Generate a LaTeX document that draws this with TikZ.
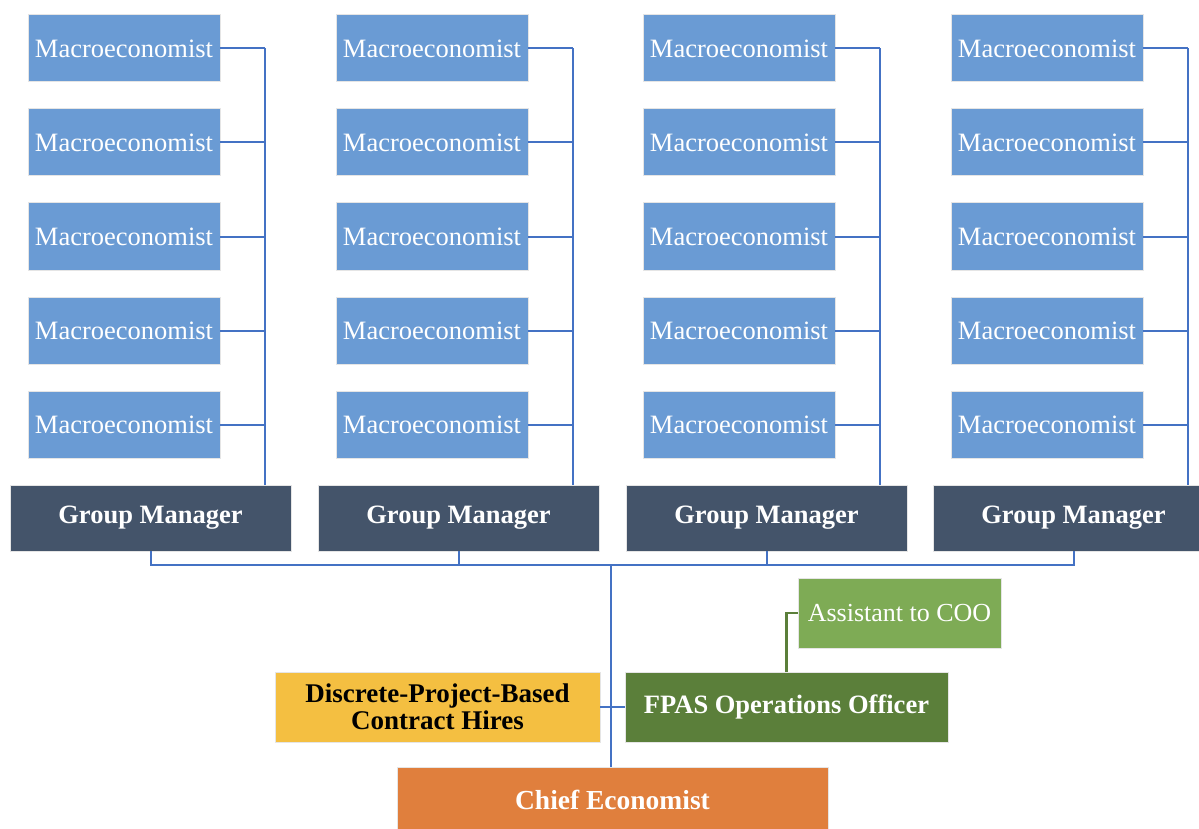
\documentclass[tikz,border=0pt]{standalone}
\usepackage{fontspec}
\setmainfont{Liberation Serif}
\definecolor{macro}{HTML}{6A9BD4}
\definecolor{gmc}{HTML}{44546A}
\definecolor{linec}{HTML}{4472C4}
\definecolor{chiefc}{HTML}{E07F3D}
\definecolor{yel}{HTML}{F4BF41}
\definecolor{dgreen}{HTML}{5B7F3A}
\definecolor{lgreen}{HTML}{7EAB55}
\tikzset{
  box/.style={rectangle, inner sep=0pt, outer sep=0pt, draw=black!10, line width=1pt, align=center},
  macrobox/.style={box, fill=macro, text=white, minimum width=192pt, minimum height=67pt, font=\fontsize{26.5}{30}\selectfont},
  gmbox/.style={box, fill=gmc, text=white, minimum width=281pt, minimum height=66pt, font=\fontsize{26.5}{30}\bfseries},
  conn/.style={draw=linec, line width=2pt},
  gconn/.style={draw=dgreen, line width=2.5pt},
}
\begin{document}
\begin{tikzpicture}[x=1pt,y=-1pt]
\clip (0,0) rectangle (1199,829);
\fill[white] (0,0) rectangle (1199,829);
\foreach \c/\xc/\gx in {1/124/150.5, 2/432/458.5, 3/739/766.5, 4/1047/1073.5} {
  \foreach \r/\yc in {1/48.5, 2/142.5, 3/236.5, 4/330.5, 5/424.5} {
    \node[macrobox] (m\c-\r) at (\xc,\yc) {Macroeconomist};
  }
  \node[gmbox] (gm\c) at (\gx,518) {Group Manager};
  \coordinate (v\c) at (\xc+141,485);
  \foreach \r in {1,...,5} {
    \draw[conn] (m\c-\r.east) -- (m\c-\r.east -| v\c);
  }
  \draw[conn] (m\c-1.east -| v\c) -- (v\c);
}
\coordinate (bus) at (611,565);
\node[box, fill=chiefc, text=white, minimum width=431pt, minimum height=66pt, font=\fontsize{27.5}{30}\bfseries] (chief) at (612.5,800) {Chief Economist};
\node[box, fill=yel, text=black, minimum width=325pt, minimum height=70pt, font=\fontsize{27}{27}\bfseries] (disc) at (437.5,707) {Discrete-Project-Based\\Contract Hires};
\node[box, fill=dgreen, text=white, minimum width=323pt, minimum height=70pt, font=\fontsize{26.5}{30}\bfseries] (fpas) at (786.5,707) {FPAS Operations Officer};
\node[box, fill=lgreen, text=white, minimum width=203pt, minimum height=70pt, font=\fontsize{26}{30}\selectfont] (asst) at (899.5,613) {Assistant to COO};
\foreach \c in {1,...,4} {
  \draw[conn] (gm\c.south) |- (bus);
}
\draw[conn] (bus) -- (bus |- chief.north);
\draw[conn] (disc.east) -- (fpas.west);
\draw[gconn] (fpas.north) |- (asst.west);
\end{tikzpicture}
\end{document}
